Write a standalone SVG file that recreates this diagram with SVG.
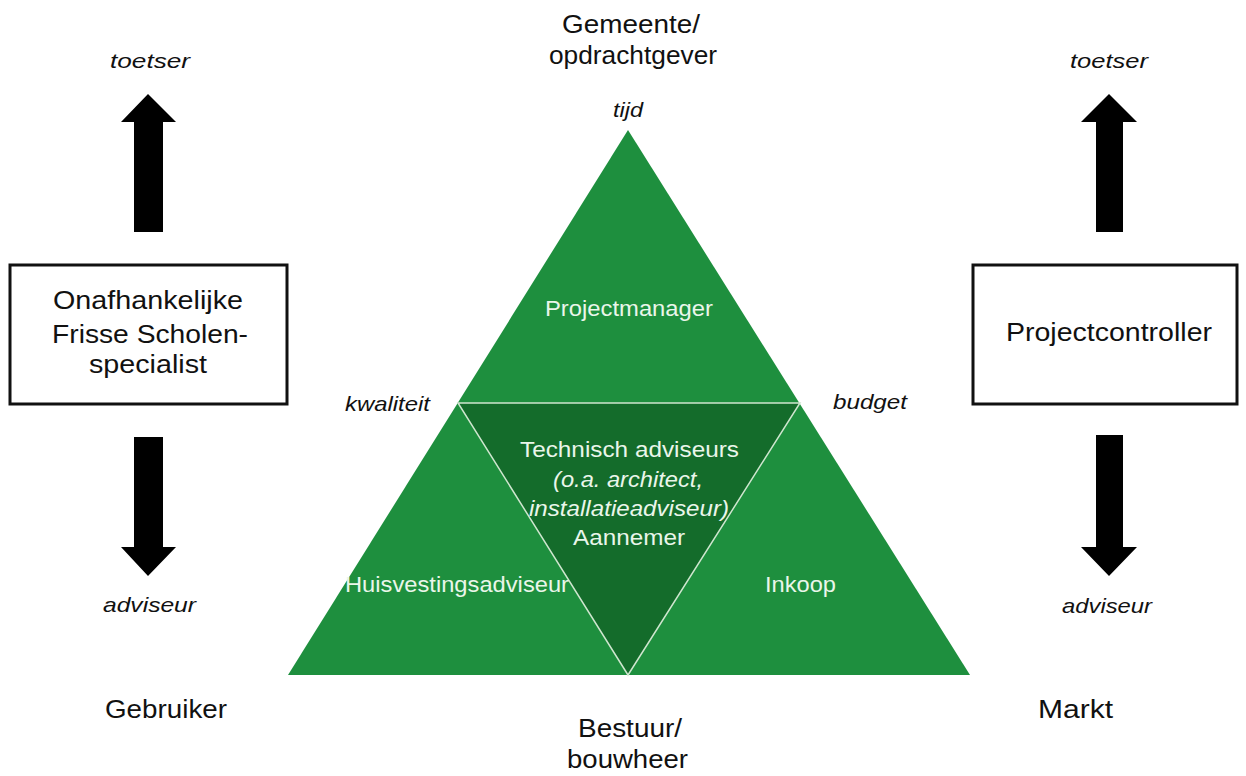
<svg xmlns="http://www.w3.org/2000/svg" width="1246" height="776" viewBox="0 0 1246 776">
<style>
text{font-family:"Liberation Sans",Arial,sans-serif;fill:#111}
.big{font-size:25px}
.lbl{font-size:21px;font-style:italic}
.w{fill:#eaf6ea;font-size:22px}
.wi{fill:#eaf6ea;font-size:22px;font-style:italic}
.arrow{fill:#000}
.box{fill:#fff;stroke:#111;stroke-width:3}
</style>
<rect width="1246" height="776" fill="#fff"/>
<g id="triangle">
<polygon points="628,130 970,675 288,675" fill="#1e8f3e"/>
<polygon points="458,403 800,403 628,675" fill="#146c2b" stroke="#cfe6cf" stroke-width="1.5"/>
</g>
<g id="connectors">
<polygon class="arrow" points="148,94 176,122 163,122 163,232 134,232 134,122 121,122"/>
<polygon class="arrow" points="134,437 163,437 163,547 176,547 148,576 121,547 134,547"/>
<polygon class="arrow" points="1109,94 1137,122 1123,122 1123,232 1096,232 1096,122 1081,122"/>
<polygon class="arrow" points="1096,435 1123,435 1123,547 1137,547 1109,576 1081,547 1096,547"/>
</g>
<g id="box-left">
<rect class="box" x="10" y="265" width="277" height="139"/>
<text class="big" x="53" y="309" textLength="190" lengthAdjust="spacingAndGlyphs">Onafhankelijke</text>
<text class="big" x="52" y="343" textLength="196" lengthAdjust="spacingAndGlyphs">Frisse Scholen-</text>
<text class="big" x="89" y="373" textLength="118" lengthAdjust="spacingAndGlyphs">specialist</text>
</g>
<g id="box-right">
<rect class="box" x="973" y="265" width="264" height="139"/>
<text class="big" x="1006" y="341" textLength="206" lengthAdjust="spacingAndGlyphs">Projectcontroller</text>
</g>
<g id="labels">
<text class="big" x="562" y="33" textLength="138" lengthAdjust="spacingAndGlyphs">Gemeente/</text>
<text class="big" x="549" y="64" textLength="168" lengthAdjust="spacingAndGlyphs">opdrachtgever</text>
<text class="lbl" x="613" y="117" textLength="30" lengthAdjust="spacingAndGlyphs">tijd</text>
<text class="lbl" x="345" y="411" textLength="85" lengthAdjust="spacingAndGlyphs">kwaliteit</text>
<text class="lbl" x="833" y="409" textLength="74" lengthAdjust="spacingAndGlyphs">budget</text>
<text class="lbl" x="110" y="68" textLength="80" lengthAdjust="spacingAndGlyphs">toetser</text>
<text class="lbl" x="1070" y="68" textLength="78" lengthAdjust="spacingAndGlyphs">toetser</text>
<text class="lbl" x="103" y="612" textLength="93" lengthAdjust="spacingAndGlyphs">adviseur</text>
<text class="lbl" x="1062" y="613" textLength="90" lengthAdjust="spacingAndGlyphs">adviseur</text>
<text class="big" x="105" y="718" textLength="122" lengthAdjust="spacingAndGlyphs">Gebruiker</text>
<text class="big" x="1038" y="718" textLength="75" lengthAdjust="spacingAndGlyphs">Markt</text>
<text class="big" x="578" y="737" textLength="104" lengthAdjust="spacingAndGlyphs">Bestuur/</text>
<text class="big" x="567" y="768" textLength="121" lengthAdjust="spacingAndGlyphs">bouwheer</text>
</g>
<g id="node-projectmanager">
<text class="w" x="545" y="316" textLength="168" lengthAdjust="spacingAndGlyphs">Projectmanager</text>
</g>
<g id="node-technisch">
<text class="w" x="520" y="457" textLength="219" lengthAdjust="spacingAndGlyphs">Technisch adviseurs</text>
<text class="wi" x="553" y="487" textLength="150" lengthAdjust="spacingAndGlyphs">(o.a. architect,</text>
<text class="wi" x="529" y="516" textLength="200" lengthAdjust="spacingAndGlyphs">installatieadviseur)</text>
<text class="w" x="573" y="545" textLength="112" lengthAdjust="spacingAndGlyphs">Aannemer</text>
</g>
<g id="node-huisvesting">
<text class="w" x="345" y="592" textLength="224" lengthAdjust="spacingAndGlyphs">Huisvestingsadviseur</text>
</g>
<g id="node-inkoop">
<text class="w" x="765" y="592" textLength="71" lengthAdjust="spacingAndGlyphs">Inkoop</text>
</g>
</svg>
